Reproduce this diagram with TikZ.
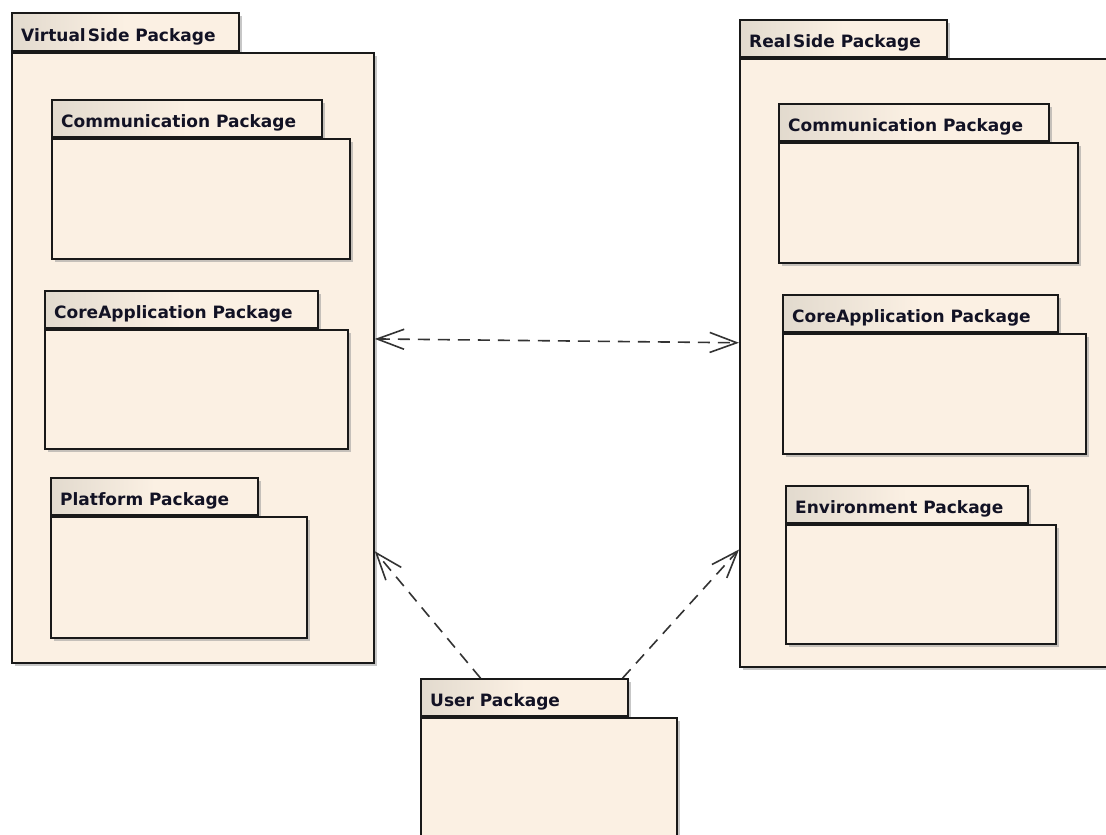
\documentclass[tikz,border=0pt]{standalone}
\usepackage{fontspec}
\newfontfamily\lblfont{DejaVu Sans}
\usetikzlibrary{arrows.meta,shadows,calc}
\definecolor{pkgfill}{RGB}{251,240,227}
\definecolor{tabdark}{RGB}{226,218,206}
\definecolor{txtcol}{RGB}{18,18,36}
\tikzset{
  pshadow/.style={drop shadow={shadow xshift=3pt, shadow yshift=-3pt, fill=black!40, opacity=0.55}},
  pkgbody/.style={draw=black!90, line width=1.8pt, fill=pkgfill, inner sep=0pt, anchor=north west, pshadow},
  pkgtab/.style={draw=black!90, line width=1.8pt, left color=tabdark, right color=pkgfill, middle color=pkgfill, inner sep=0pt, anchor=south west, pshadow},
  pkgtxt/.style={font=\lblfont\bfseries\fontsize{17}{20}\selectfont, text=txtcol, anchor=base west, inner sep=0pt},
  dep/.style={draw=black!80, line width=1.6pt, dash pattern=on 12pt off 8pt},
  barb/.tip={Straight Barb[length=27pt,width=20pt,line width=1.6pt]},
}
\newcommand\pkgbox[8]{%
  \node[pkgtab, minimum width={(#3-#2)*1pt}, minimum height={(#5-#4)*1pt}] (#1tab) at (#2,#5) {};
  \node[pkgbody, minimum width={(#6-#2)*1pt}, minimum height={(#7-#5)*1pt}] (#1) at (#2,#5) {};
  \node[pkgtxt] (#1txt) at ([xshift=10pt,yshift=11pt]#1tab.south west) {#8};
}
\begin{document}
\begin{tikzpicture}[x=1pt,y=-1pt]
\useasboundingbox (0,0) rectangle (1106,835);
\clip (0,0) rectangle (1106,835);
\fill[white] (0,0) rectangle (1106,835);
% VirtualSide
\pkgbox{vs}{11}{238}{14}{52}{373}{662}{Virtual\kern2pt Side Package}
\pkgbox{vc}{51}{321}{101}{138}{349}{258}{Communication Package}
\pkgbox{va}{44}{317}{292}{329}{347}{448}{CoreApplication Package}
\pkgbox{vp}{50}{257}{479}{516}{306}{637}{Platform Package}
% RealSide
\pkgbox{rs}{739}{946}{21}{58}{1118}{666}{Real\kern2pt Side Package}
\pkgbox{rc}{778}{1048}{105}{142}{1077}{262}{Communication Package}
\pkgbox{ra}{782}{1057}{296}{333}{1085}{453}{CoreApplication Package}
\pkgbox{re}{785}{1027}{487}{524}{1055}{643}{Environment Package}
% User
\pkgbox{us}{420}{627}{680}{717}{676}{850}{User Package}
% connectors
\draw[dep, barb-barb] ($(vs.north east)!0.469!(vs.south east)$) -- ($(rs.north west)!0.467!(rs.south west)$);
\draw[dep, -barb] ($(ustab.north west)!0.29!(ustab.north east)$) -- ($(vs.north east)!0.816!(vs.south east)$);
\draw[dep, -barb] ($(ustab.north west)!0.97!(ustab.north east)$) -- ($(rs.north west)!0.806!(rs.south west)$);
\end{tikzpicture}
\end{document}
